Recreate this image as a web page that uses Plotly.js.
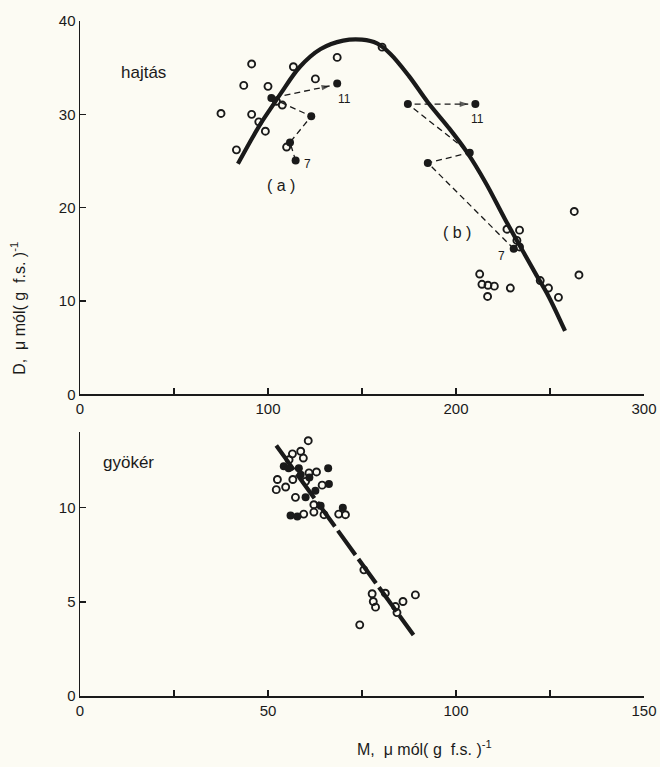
<!DOCTYPE html>
<html>
<head>
<meta charset="utf-8">
<script src="https://cdn.plot.ly/plotly-3.0.1.min.js"></script>
<style>html,body{margin:0;padding:0;background:#fcfbf3;}</style>
</head>
<body>
<div id="chart" style="width:660px;height:767px;"></div>
<script>
// ---- hajtás (shoot) panel ----
const shootOpenX = [75.0, 91.3, 87.1, 100.0, 113.5, 136.8, 125.2, 91.3, 95.1, 98.6, 83.2, 104.5, 107.6, 109.9, 160.7,
                    262.9, 227.1, 233.8, 232.4, 233.8, 212.6, 213.8, 217.0, 220.4, 216.8, 228.9, 244.8, 249.2, 254.5, 265.4];
const shootOpenY = [30.1, 35.4, 33.1, 33.0, 35.1, 36.1, 33.8, 30.0, 29.2, 28.2, 26.2, 31.4, 31.0, 26.5, 37.2,
                    19.6, 17.7, 17.6, 16.5, 15.8, 12.9, 11.8, 11.7, 11.6, 10.5, 11.4, 12.2, 11.4, 10.4, 12.8];
// time paths (a) and (b), from day 7 to day 11 (last entry = arrow tip)
const pathAX = [114.7, 111.7, 123.0, 101.8, 133.0];
const pathAY = [25.05, 27.0, 29.8, 31.75, 33.05];
const pathAFilledX = [114.7, 111.7, 123.0, 101.8, 136.8];
const pathAFilledY = [25.05, 27.0, 29.8, 31.75, 33.3];
const pathBX = [230.7, 185.0, 207.3, 174.4, 206.5];
const pathBY = [15.6, 24.8, 25.9, 31.1, 31.1];
const pathBFilledX = [230.7, 185.0, 207.3, 174.4, 210.3];
const pathBFilledY = [15.6, 24.8, 25.9, 31.1, 31.1];
// fitted curve
const shootCurveX = [84, 92, 97, 103, 107, 117, 128, 140, 150, 158, 165, 175, 185, 196, 206, 216, 226, 236, 243, 249, 258];
const shootCurveY = [24.7, 27.6, 29.3, 31.1, 32.3, 35.1, 37.0, 37.9, 38.0, 37.6, 36.5, 34.1, 31.3, 28.6, 25.9, 22.6, 18.8, 15.2, 12.7, 10.6, 6.8];

// ---- gyökér (root) panel ----
const rootOpenX = [60.7, 58.7, 56.5, 59.4, 55.6, 60.9, 62.9, 52.5, 56.6, 54.7, 52.2, 60.0, 64.4, 57.3, 62.2, 62.2, 59.5, 64.9, 68.8, 70.6,
                   75.5, 77.7, 78.0, 78.6, 81.2, 85.9, 83.9, 84.3, 89.2, 74.4];
const rootOpenY = [13.56, 13.0, 12.86, 12.64, 12.55, 11.85, 11.9, 11.5, 11.5, 11.1, 10.96, 11.4, 11.2, 10.55, 10.16, 9.77, 9.66, 9.63, 9.66, 9.63,
                   6.7, 5.43, 5.02, 4.72, 5.46, 5.02, 4.75, 4.43, 5.37, 3.78];
const rootFilledX = [54.2, 58.2, 58.7, 66.0, 66.2, 62.6, 60.0, 56.0, 57.8, 69.9, 64.0, 55.5, 61.0];
const rootFilledY = [12.2, 12.1, 11.75, 12.1, 11.26, 10.9, 10.55, 9.59, 9.54, 10.0, 10.1, 12.1, 11.6];
const rootLineX = [52.2, 88.7];
const rootLineY = [13.3, 3.24];

// ---- axes ----
const topTickVals = [0, 100, 200, 300];
const topMinorStep = 50;
const topYTicks = [0, 10, 20, 30, 40];
const botTickVals = [0, 50, 100, 150];
const botMinorStep = 25;
const botYTicks = [0, 5, 10];

const ink = '#1a1a1a';
const openMarker = {symbol: 'circle-open', size: 7, color: ink, line: {width: 1.9, color: ink}};
const fillMarker = {symbol: 'circle', size: 8, color: ink};
const arrowMarker = (n) => ({
  symbol: Array.from({length: n}, (_, i) => i === n - 1 ? 'arrow' : 'circle'),
  size: Array.from({length: n}, (_, i) => i === n - 1 ? 9 : 0),
  angleref: 'previous', color: ink, line: {width: 0}
});

const traces = [
  {x: shootCurveX, y: shootCurveY, mode: 'lines', line: {color: ink, width: 4.2, shape: 'spline'}, xaxis: 'x', yaxis: 'y'},
  {x: pathAX, y: pathAY, mode: 'lines+markers', line: {color: ink, width: 1.3, dash: '6px,4px'}, marker: arrowMarker(pathAX.length), xaxis: 'x', yaxis: 'y'},
  {x: pathBX, y: pathBY, mode: 'lines+markers', line: {color: ink, width: 1.3, dash: '6px,4px'}, marker: arrowMarker(pathBX.length), xaxis: 'x', yaxis: 'y'},
  {x: shootOpenX, y: shootOpenY, mode: 'markers', marker: openMarker, xaxis: 'x', yaxis: 'y', cliponaxis: false},
  {x: pathAFilledX, y: pathAFilledY, mode: 'markers', marker: fillMarker, xaxis: 'x', yaxis: 'y'},
  {x: pathBFilledX, y: pathBFilledY, mode: 'markers', marker: fillMarker, xaxis: 'x', yaxis: 'y'},
  {x: rootLineX, y: rootLineY, mode: 'lines', line: {color: ink, width: 4.2, dash: '30px,5px'}, xaxis: 'x2', yaxis: 'y2'},
  {x: rootOpenX, y: rootOpenY, mode: 'markers', marker: openMarker, xaxis: 'x2', yaxis: 'y2'},
  {x: rootFilledX, y: rootFilledY, mode: 'markers', marker: fillMarker, xaxis: 'x2', yaxis: 'y2'}
];

const fam = 'Liberation Sans, Arial, sans-serif';
const axisCommon = {
  showline: true, linecolor: ink, linewidth: 1.5, showgrid: false, zeroline: false,
  ticks: 'inside', ticklen: 6, tickwidth: 1.3, tickcolor: ink,
  tickfont: {family: fam, size: 15, color: ink}, fixedrange: true
};
const minorTicks = (step) => ({dtick: step, tick0: 0, ticks: 'inside', ticklen: 6, tickwidth: 1.3, tickcolor: ink, showgrid: false});

const lbl = {family: fam, color: ink};
const annotations = [
  {xref: 'x', yref: 'y', x: 34, y: 34.5, text: 'hajtás', showarrow: false, font: Object.assign({size: 17}, lbl)},
  {xref: 'x', yref: 'y', x: 106.7, y: 22.4, text: '( a )', showarrow: false, font: Object.assign({size: 16}, lbl)},
  {xref: 'x', yref: 'y', x: 200.6, y: 17.3, text: '( b )', showarrow: false, font: Object.assign({size: 16}, lbl)},
  {xref: 'x', yref: 'y', x: 121.0, y: 24.7, text: '7', showarrow: false, font: Object.assign({size: 12}, lbl)},
  {xref: 'x', yref: 'y', x: 140.5, y: 31.6, text: '11', showarrow: false, font: Object.assign({size: 12}, lbl)},
  {xref: 'x', yref: 'y', x: 211.5, y: 29.5, text: '11', showarrow: false, font: Object.assign({size: 12}, lbl)},
  {xref: 'x', yref: 'y', x: 224.4, y: 14.8, text: '7', showarrow: false, font: Object.assign({size: 12}, lbl)},
  {xref: 'x2', yref: 'y2', x: 13.0, y: 12.4, text: 'gyökér', showarrow: false, font: Object.assign({size: 17}, lbl)},
  {xref: 'paper', yref: 'paper', x: -0.11, y: 0.575, xanchor: 'center', yanchor: 'middle',
   text: 'D,  μ mól( g  f.s. )<sup>-1</sup>', textangle: -90,
   showarrow: false, font: Object.assign({size: 16}, lbl)},
  {xref: 'paper', yref: 'paper', x: 0.61, y: -0.077, xanchor: 'center', yanchor: 'middle',
   text: 'M,  μ mól( g  f.s. )<sup>-1</sup>',
   showarrow: false, font: Object.assign({size: 16}, lbl)}
];

const layout = {
  width: 660, height: 767,
  margin: {l: 80, r: 16, t: 21, b: 71},
  paper_bgcolor: '#fcfbf3', plot_bgcolor: 'rgba(0,0,0,0)',
  showlegend: false,
  xaxis: Object.assign({}, axisCommon, {domain: [0, 1], range: [0, 300], anchor: 'y', tickvals: topTickVals, minor: minorTicks(topMinorStep)}),
  yaxis: Object.assign({}, axisCommon, {domain: [0.4467, 1], range: [0, 40], anchor: 'x', tickvals: topYTicks}),
  xaxis2: Object.assign({}, axisCommon, {domain: [0, 1], range: [0, 150], anchor: 'y2', tickvals: botTickVals, minor: minorTicks(botMinorStep)}),
  yaxis2: Object.assign({}, axisCommon, {domain: [0, 0.3905], range: [0, 14], anchor: 'x2', tickvals: botYTicks}),
  annotations: annotations
};

Plotly.newPlot('chart', traces, layout, {staticPlot: true, displayModeBar: false});
</script>
</body>
</html>
